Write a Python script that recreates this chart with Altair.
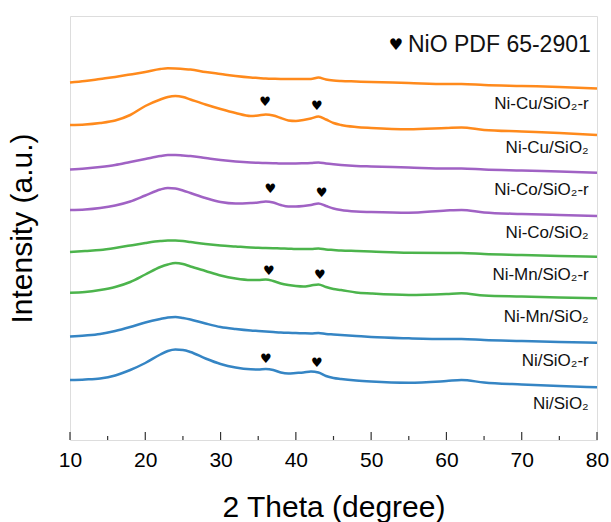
import altair as alt
import pandas as pd

# 2-theta sampling grid (degree)
two_theta = [10, 12, 14, 16, 18, 20, 22, 23, 24, 25, 26, 28, 30, 32, 34, 35, 36, 37,
             38, 39, 40, 41, 42, 43, 44, 45, 46, 48, 50, 55, 60, 62, 65, 70, 75, 80]

# stacked intensity traces (a.u., offsets included), top to bottom
ni_cu_r = [357.5, 359, 361, 363, 365.5, 368, 371, 371.7, 371.5, 371, 370.5, 368, 366, 364,
           362.5, 362, 361.5, 361.2, 361, 361, 361, 361, 361, 362.5, 360.5, 359.5, 359,
           358.5, 358, 357, 356, 356, 355, 354, 353, 351.5]
ni_cu = [315, 315.5, 317, 319.5, 325, 334, 340.5, 343, 344, 343, 340.5, 335.5, 331, 327,
         324, 324.5, 325.5, 324.5, 322, 319.5, 319, 320, 321.5, 323.5, 320.5, 317, 315,
         313, 312, 310.7, 312, 312.5, 310, 308.5, 307, 305]
ni_co_r = [270.5, 271.5, 273, 275, 278, 281, 284, 285, 285, 284.5, 284, 282, 280, 278.5,
           277.5, 277.2, 277, 276.8, 276.5, 276.5, 276.5, 276.7, 277, 277.5, 276.5, 275.7,
           275, 274, 273.5, 272.5, 271.5, 271.5, 270.5, 269.5, 268.5, 267.3]
ni_co = [230, 230.5, 232, 234.5, 238.5, 244.5, 250.5, 252, 251.5, 249.5, 247, 242, 238,
         236.5, 237, 237.5, 238.5, 237.5, 235, 233.5, 233.5, 234, 235, 236.5, 234, 231.5,
         230, 228.5, 228, 227.3, 229.5, 230, 227.5, 226, 225, 224]
ni_mn_r = [188, 189, 190, 192, 194.5, 197, 199, 199.5, 199.5, 199, 198, 196, 194.5, 193.5,
           192.5, 192.2, 192, 191.8, 191.5, 191.3, 191, 191, 191, 191.5, 190.5, 190, 189.5,
           189, 188.5, 187.3, 187, 187, 186, 185, 184, 183.3]
ni_mn = [147.3, 148, 150, 153, 158, 165.5, 173, 175.5, 177, 176, 173.5, 169, 164.5, 161.5,
         160, 160, 160.5, 159, 156.5, 155, 154, 153.5, 154.5, 155.5, 153, 151, 150, 147.5,
         146.5, 145, 146, 146.7, 144.5, 143.5, 142.5, 141.7]
ni_r = [103.5, 104.5, 106, 109, 113, 117.5, 121, 122.5, 123, 122, 120.5, 116.5, 113, 111,
        109.5, 109, 108.5, 108, 107.5, 107.2, 107, 106.7, 106.5, 107, 106, 105.5, 105, 104,
        103, 101.7, 101, 101, 100, 99, 98, 97.3]
ni = [60, 60.5, 61.5, 64.5, 70, 77, 85.5, 89, 90.5, 90, 88, 81.5, 76, 72.5, 70.7, 70.5, 71,
      70, 67.5, 66.5, 67, 67.5, 68.5, 67.5, 64, 62, 61, 59.5, 58.5, 57.3, 59, 60, 57.5,
      55.5, 54, 52.7]

samples = ["Ni-Cu/SiO₂-r", "Ni-Cu/SiO₂", "Ni-Co/SiO₂-r", "Ni-Co/SiO₂",
           "Ni-Mn/SiO₂-r", "Ni-Mn/SiO₂", "Ni/SiO₂-r", "Ni/SiO₂"]
colors = ["#ff8a1c", "#ff8a1c", "#a062c4", "#a062c4",
          "#4cb44c", "#4cb44c", "#3585c4", "#3585c4"]
traces = [ni_cu_r, ni_cu, ni_co_r, ni_co, ni_mn_r, ni_mn, ni_r, ni]

# sample name positions (right-aligned near the right frame)
label_x = [78.9] * 8
label_y = [336, 292, 250, 207, 165, 123, 79, 36]

# NiO reflections marked on the calcined samples
peak_x = [35.9, 42.8, 36.6, 43.4, 36.4, 43.2, 36.0, 42.8]
peak_y = [338.3, 334, 250.7, 247.3, 169.3, 164.7, 80.7, 77.3]

# axis ticks
major_ticks = [10, 20, 30, 40, 50, 60, 70, 80]
minor_ticks = [15, 25, 35, 45, 55, 65, 75]

FONT = "Liberation Sans, Arial, DejaVu Sans"

rows = []
for name, vals in zip(samples, traces):
    for t, v in zip(two_theta, vals):
        rows.append({"two_theta": t, "intensity": v, "sample": name})
df = pd.DataFrame(rows)

x_enc = alt.X(
    "two_theta:Q",
    scale=alt.Scale(domain=[10, 80], nice=False),
    axis=alt.Axis(
        values=major_ticks, ticks=False, domain=False, grid=False,
        labelFontSize=21, labelColor="black", labelFont=FONT, labelPadding=9,
        labelFlush=False,
        title="2 Theta (degree)", titleFontSize=30, titleFontWeight="normal",
        titleColor="black", titleFont=FONT, titleY=67, titleBaseline="middle",
    ),
)
y_enc = alt.Y(
    "intensity:Q",
    scale=alt.Scale(domain=[0, 424], nice=False),
    axis=alt.Axis(
        labels=False, ticks=False, domain=False, grid=False,
        title="Intensity (a.u.)", titleFontSize=30, titleFontWeight="normal",
        titleColor="black", titleFont=FONT, titleX=-48, titleY=212,
        titleBaseline="middle",
    ),
)

lines = alt.Chart(df).mark_line(
    strokeWidth=2.5, strokeJoin="round", interpolate="monotone"
).encode(
    x=x_enc,
    y=y_enc,
    color=alt.Color("sample:N", scale=alt.Scale(domain=samples, range=colors), legend=None),
    detail="sample:N",
)

labels_df = pd.DataFrame({"two_theta": label_x, "intensity": label_y, "text": samples})
labels = alt.Chart(labels_df).mark_text(
    align="right", baseline="middle", fontSize=17, font=FONT, color="#111"
).encode(x="two_theta:Q", y="intensity:Q", text="text:N")

peaks_df = pd.DataFrame({"two_theta": peak_x, "intensity": peak_y})
peaks = alt.Chart(peaks_df).mark_text(
    text="♥", fontSize=13, font="DejaVu Sans", color="black", baseline="middle"
).encode(x="two_theta:Q", y="intensity:Q")

legend_df = pd.DataFrame({"two_theta": [53.3], "intensity": [395]})
legend_mark = alt.Chart(legend_df).mark_text(
    text="♥", fontSize=16, font="DejaVu Sans", color="black", baseline="middle"
).encode(x="two_theta:Q", y="intensity:Q")
legend_text = alt.Chart(legend_df).mark_text(
    text="NiO PDF 65-2901", fontSize=23, font=FONT, color="#111",
    align="left", baseline="middle", dx=12
).encode(x="two_theta:Q", y="intensity:Q")

major_df = pd.DataFrame({"two_theta": major_ticks})
minor_df = pd.DataFrame({"two_theta": minor_ticks})
major_rules = alt.Chart(major_df).mark_rule(color="#333", strokeWidth=1.2).encode(
    x="two_theta:Q", y=alt.value(424), y2=alt.value(416)
)
minor_rules = alt.Chart(minor_df).mark_rule(color="#333", strokeWidth=1.2).encode(
    x="two_theta:Q", y=alt.value(424), y2=alt.value(420)
)

chart = (
    alt.layer(lines, labels, peaks, legend_mark, legend_text, major_rules, minor_rules)
    .properties(
        width=527, height=424,
        autosize=alt.AutoSizeParams(type="none"),
        padding={"left": 70, "top": 16, "right": 14, "bottom": 82},
    )
    .configure_view(stroke="#333", strokeWidth=1.6)
    .configure(background="white")
)

chart.save("out.html", embed_options={"renderer": "svg", "actions": False})
